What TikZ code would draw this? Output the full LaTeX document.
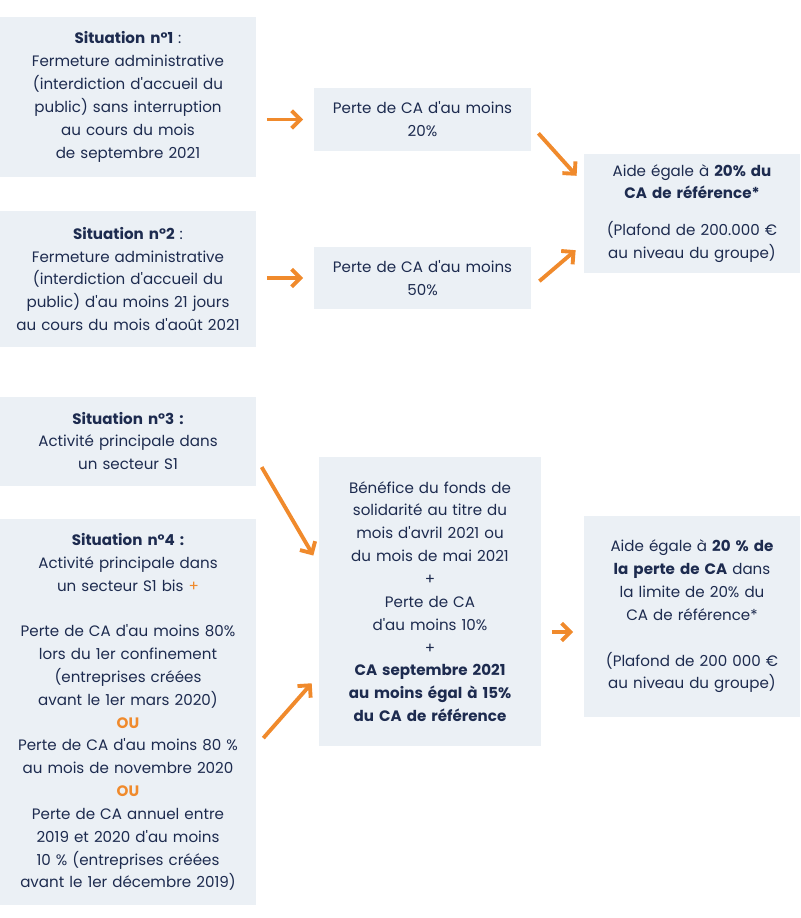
\documentclass[tikz,border=0pt]{standalone}
\usepackage{fontspec}
\setmainfont{Poppins}
\usetikzlibrary{arrows.meta}
\definecolor{boxfill}{HTML}{EBF0F5}
\definecolor{ink}{HTML}{1D2B4F}
\definecolor{accent}{HTML}{F08A2C}
\tikzset{
  panel/.style={fill=boxfill,text=ink,align=center,inner sep=0pt,font=\fontsize{8.6}{13}\selectfont},
  flow/.style={accent,line width=2.2pt,-{Straight Barb[length=5pt,width=10pt]},shorten >=6pt,shorten <=6pt}
}
\newcommand{\orsep}{\textcolor{accent}{\textbf{OU}}}
\newcommand{\ap}{\textquotesingle}
\hyphenpenalty=10000
\begin{document}
\begin{tikzpicture}[x=0.02cm,y=-0.02cm]
  \useasboundingbox (0,0) rectangle (800,918);
  % situations
  \node[panel,minimum width=256*0.02cm,minimum height=160*0.02cm,text width=240*0.02cm] (sit1) at (128,97)
    {\textbf{Situation n°1} :\\Fermeture administrative (interdiction d\ap accueil du public) sans interruption au cours du mois\\de septembre 2021};
  \node[panel,minimum width=256*0.02cm,minimum height=136*0.02cm,text width=240*0.02cm] (sit2) at (128,279)
    {\textbf{Situation n°2} :\\Fermeture administrative (interdiction d\ap accueil du public) d\ap au moins 21 jours au cours du mois d\ap août 2021};
  \node[panel,minimum width=256*0.02cm,minimum height=89*0.02cm,text width=230*0.02cm] (sit3) at (128,441)
    {\textbf{Situation n°3 :}\\Activité principale dans\\un secteur S1};
  \node[panel,minimum width=256*0.02cm,minimum height=386*0.02cm,text width=252*0.02cm] (sit4) at (128,712)
    {\textbf{Situation n°4 :}\\Activité principale dans un secteur S1 bis \textcolor{accent}{+}\\[13pt]
     Perte de CA d\ap au moins 80\%\\lors du 1er confinement (entreprises créées avant le 1er mars 2020)\\\orsep\\
     Perte de CA d\ap au moins 80 \%\\au mois de novembre 2020\\\orsep\\
     Perte de CA annuel entre 2019 et 2020 d\ap au moins 10 \% (entreprises créées avant le 1er décembre 2019)};
  % losses
  \node[panel,minimum width=217*0.02cm,minimum height=63*0.02cm,text width=205*0.02cm] (loss1) at (422.5,119.5)
    {Perte de CA d\ap au moins\\20\%};
  \node[panel,minimum width=217*0.02cm,minimum height=62*0.02cm,text width=205*0.02cm] (loss2) at (422.5,278)
    {Perte de CA d\ap au moins\\50\%};
  \node[panel,minimum width=222*0.02cm,minimum height=289*0.02cm,text width=214*0.02cm] (fonds) at (430,601.5)
    {Bénéfice du fonds de solidarité au titre du mois d\ap avril 2021 ou du mois de mai 2021\\+\\Perte de CA\\d\ap au moins 10\%\\+\\\textbf{CA septembre 2021 au moins égal à 15\% du CA de référence}};
  % aides
  \node[panel,minimum width=216*0.02cm,minimum height=119*0.02cm,text width=212*0.02cm] (aide1) at (692,213.5)
    {Aide égale à \textbf{20\% du CA de référence*}\\[8pt](Plafond de 200.000 € au niveau du groupe)};
  \node[panel,minimum width=216*0.02cm,minimum height=201*0.02cm,text width=210*0.02cm] (aide2) at (692,616.5)
    {Aide égale à \textbf{20 \% de la perte de CA} dans la limite de 20\% du CA de référence*\\[13pt](Plafond de 200 000 € au niveau du groupe)};
  % arrows
  \draw[flow] (sit1.east |- loss1) -- (loss1.west);
  \draw[flow] (sit2.east |- loss2) -- (loss2.west);
  \draw[flow] ([yshift=-6*0.02cm]loss1.east) -- ([yshift=-30*0.02cm]aide1.north west);
  \draw[flow] ([yshift=-10*0.02cm]loss2.east) -- ([yshift=30*0.02cm]aide1.south west);
  \draw[flow] ([yshift=-17*0.02cm]sit3.east) -- ([yshift=-108*0.02cm]fonds.north west);
  \draw[flow] ([yshift=-34*0.02cm]sit4.east) -- ([yshift=71*0.02cm]fonds.south west);
  \draw[flow] (fonds.east |- 0,632) -- (aide2.west |- 0,632);
\end{tikzpicture}
\end{document}
